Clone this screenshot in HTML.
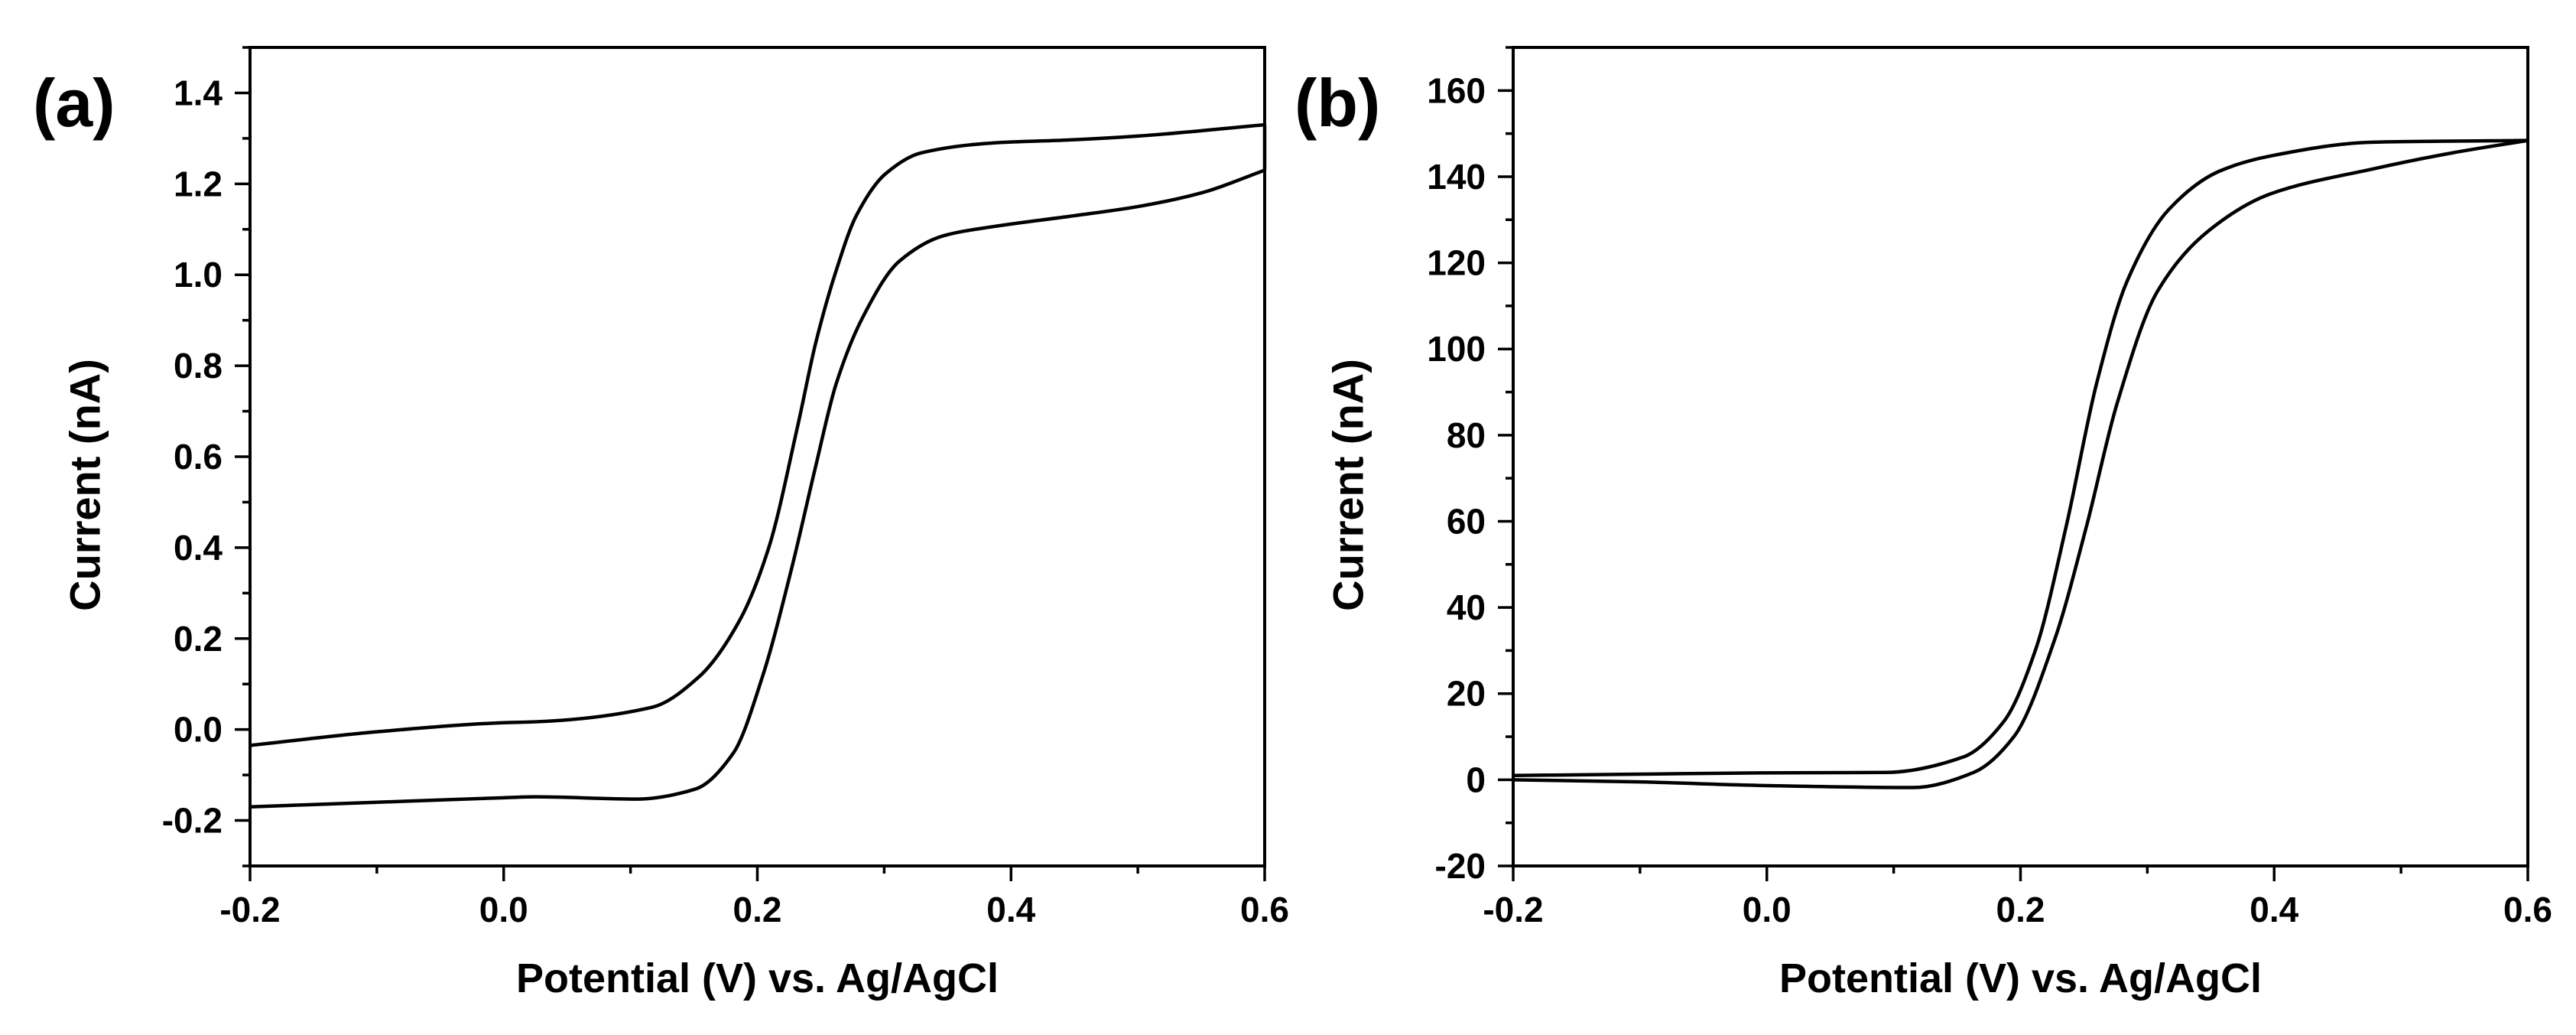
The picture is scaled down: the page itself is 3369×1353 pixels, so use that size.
<!DOCTYPE html>
<html><head><meta charset="utf-8">
<style>
html,body{margin:0;padding:0;background:#fff;}
svg{display:block;font-family:"Liberation Sans",Arial,sans-serif;font-weight:bold;}
</style></head>
<body>
<svg id="fig" width="3369" height="1353" viewBox="0 0 3369 1353" xmlns="http://www.w3.org/2000/svg">
<rect x="0" y="0" width="3369" height="1353" fill="#fff"/>
</svg>
<script>
// Panel (a) data
const aForwardX = [-0.2,-0.1,0.0,0.025,0.105,0.151,0.181,0.204,0.227,0.246,0.262,0.283,0.312,0.347,0.386,0.45,0.5,0.55,0.6];
const aForwardY = [-0.17,-0.16,-0.15,-0.148,-0.153,-0.131,-0.052,0.116,0.354,0.579,0.759,0.906,1.03,1.086,1.106,1.13,1.15,1.18,1.23];
const aReverseX = [0.6,0.5,0.45,0.386,0.329,0.301,0.278,0.262,0.246,0.232,0.209,0.186,0.154,0.117,0.025,0.0,-0.1,-0.2];
const aReverseY = [1.33,1.305,1.297,1.29,1.268,1.222,1.13,1.008,0.85,0.67,0.40,0.24,0.116,0.049,0.017,0.015,-0.005,-0.035];
const aYTicks = [-0.2,0.0,0.2,0.4,0.6,0.8,1.0,1.2,1.4];
const aYTickLabels = ["-0.2","0.0","0.2","0.4","0.6","0.8","1.0","1.2","1.4"];
// Panel (b) data
const bForwardX = [-0.2,-0.1,-0.0065,0.115,0.163,0.195,0.227,0.252,0.276,0.308,0.349,0.397,0.478,0.54,0.6];
const bForwardY = [0,-0.5,-1.3,-1.8,1.7,10.1,32.6,58.8,87.2,113.4,127.6,136,141.8,145.5,148.4];
const bReverseX = [0.6,0.478,0.397,0.357,0.317,0.284,0.260,0.236,0.212,0.187,0.155,0.094,-0.0065,-0.1,-0.2];
const bReverseY = [148.4,148.0,144.8,141.3,132.4,115.7,92.0,58.8,30.3,13.6,5.3,1.7,1.6,1.3,1.0];
const bYTicks = [-20,0,20,40,60,80,100,120,140,160];
const bYTickLabels = ["-20","0","20","40","60","80","100","120","140","160"];
const xTicks = [-0.2,0.0,0.2,0.4,0.6];
const xTickLabels = ["-0.2","0.0","0.2","0.4","0.6"];

const NS = "http://www.w3.org/2000/svg";
const svg = document.getElementById('fig');
function mk(tag, attrs, parent){
  const e = document.createElementNS(NS, tag);
  for (const k in attrs) e.setAttribute(k, attrs[k]);
  (parent||svg).appendChild(e);
  return e;
}
// monotone cubic (Fritsch-Carlson) in pixel space; pts sorted by x
function monoPath(pts){
  pts = pts.slice().sort((a,b)=>a[0]-b[0]);
  const n = pts.length, d = [], m = [];
  for (let i=0;i<n-1;i++) d.push((pts[i+1][1]-pts[i][1])/(pts[i+1][0]-pts[i][0]));
  m[0]=d[0]; m[n-1]=d[n-2];
  for (let i=1;i<n-1;i++){
    if (d[i-1]*d[i]<=0) m[i]=0;
    else {
      const h0=pts[i][0]-pts[i-1][0], h1=pts[i+1][0]-pts[i][0];
      const w1=2*h1+h0, w2=h1+2*h0;
      m[i]=(w1+w2)/(w1/d[i-1]+w2/d[i]);
    }
  }
  let s = `M${pts[0][0]},${pts[0][1]}`;
  for (let i=0;i<n-1;i++){
    const h = pts[i+1][0]-pts[i][0];
    s += ` C${pts[i][0]+h/3},${pts[i][1]+m[i]*h/3} ${pts[i+1][0]-h/3},${pts[i+1][1]-m[i+1]*h/3} ${pts[i+1][0]},${pts[i+1][1]}`;
  }
  return s;
}
function panel(cfg){
  const g = mk('g', {});
  
  
  const L=cfg.left, R=cfg.right, T=62, B=1132;
  const sx = v => L + (v - (-0.2)) / 0.8 * (R - L);
  const sy = v => B - (v - cfg.ymin) / (cfg.ymax - cfg.ymin) * (B - T);
  const fr = mk('rect', {x:L, y:T, width:R-L, height:B-T, fill:'none', stroke:'#000', 'stroke-width':4}, g);
  
  
  for (let i=0;i<=8;i++){
    const v = -0.2 + i*0.1;
    const major = i%2===0;
    const t = mk('line', {x1:sx(v), x2:sx(v), y1:B, y2:B+(major?20:10), stroke:'#000','stroke-width':3.5}, g);
    
    
  }
  xTicks.forEach((v,i)=>{
    const t = mk('text', {x:sx(v), y:1205, 'font-size':46, 'text-anchor':'middle', fill:'#000'}, g);
    t.textContent = xTickLabels[i];
    
    
  });
  const n = Math.round((cfg.ymax-cfg.ymin)/cfg.minor);
  for (let i=0;i<=n;i++){
    const v = cfg.ymin + i*cfg.minor;
    const major = cfg.yTicks.some(tv=>Math.abs(tv-v)<1e-6);
    const t = mk('line', {x1:L-(major?20:10), x2:L, y1:sy(v), y2:sy(v), stroke:'#000','stroke-width':3.5}, g);
    
    
  }
  cfg.yTicks.forEach((v,i)=>{
    const t = mk('text', {x:L-36, y:sy(v)+16, 'font-size':46, 'text-anchor':'end', fill:'#000'}, g);
    t.textContent = cfg.yLabels[i];
    
    
  });
  const xt = mk('text', {x:(L+R)/2, y:1297, 'font-size':54, 'text-anchor':'middle', fill:'#000'}, g);
  xt.textContent = 'Potential (V) vs. Ag/AgCl';
  
  
  const yx = L-216, yy = 634;
  const yt = mk('text', {x:yx, y:yy, 'font-size':56, 'text-anchor':'middle', 'dominant-baseline':'central', transform:`rotate(-90 ${yx} ${yy})`, fill:'#000'}, g);
  yt.textContent = 'Current (nA)';
  
  
  const pl = mk('text', {x:cfg.labelX, y:165, 'font-size':88, fill:'#000'}, g);
  pl.textContent = cfg.label;
  
  
  const f = cfg.fx.map((x,i)=>[sx(x), sy(cfg.fy[i])]);
  const r = cfg.rx.map((x,i)=>[sx(x), sy(cfg.ry[i])]);
  const fp = mk('path', {d:monoPath(f), fill:'none', stroke:'#000', 'stroke-width':4.5, 'stroke-linejoin':'round'}, g);
  
  
  const rp = mk('path', {d:monoPath(r), fill:'none', stroke:'#000', 'stroke-width':4.5, 'stroke-linejoin':'round'}, g);
  
  
  const jn = mk('line', {x1:f[f.length-1][0], y1:f[f.length-1][1], x2:r[0][0], y2:r[0][1], stroke:'#000','stroke-width':4.5}, g);
  
  
}
panel({name:'panel-a', left:327, right:1654, ymin:-0.3, ymax:1.5, minor:0.1, yTicks:aYTicks, yLabels:aYTickLabels,
  fx:aForwardX, fy:aForwardY, rx:aReverseX, ry:aReverseY, label:'(a)', labelX:43});
panel({name:'panel-b', left:1979, right:3306, ymin:-20, ymax:170, minor:10, yTicks:bYTicks, yLabels:bYTickLabels,
  fx:bForwardX, fy:bForwardY, rx:bReverseX, ry:bReverseY, label:'(b)', labelX:1693});
</script>
</body></html>
